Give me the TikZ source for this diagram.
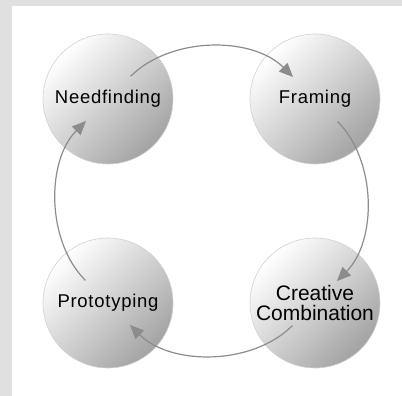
\documentclass[tikz,border=0pt]{standalone}
\usepackage{fontspec}
\setmainfont{Liberation Sans}
\usepackage{tikz}
\usetikzlibrary{arrows.meta, positioning}

\tikzset{
  phase/.style = {circle, minimum size = 130pt, inner sep = 0pt, draw = black!18, line width = 0.6pt,
    top color = white, middle color = black!11, bottom color = black!36, shading angle = 45,
    font = \fontsize{18.5}{20}\selectfont\addfontfeature{LetterSpace=4}},
  flow/.style = {draw = black!45, line width = 1.2pt, -{Triangle[length = 14pt, width = 12pt]},
    shorten < = 32pt, shorten > = 31pt, looseness = 1.1, bend left = 45}
}

\begin{document}
\begin{tikzpicture} [x = 1pt, y = 1pt, node distance = 207pt, on grid]
			% Frame: grey strips top and left
			\useasboundingbox (0,0) rectangle (402,396);
			\fill [black!12] (0,390) rectangle (402,396);
			\fill [black!12] (0,0) rectangle (12,396);

			% Start node : the other phases are placed from this one
			\node (nf) [phase] at (108,297) {Needfinding};
			\node (fr) [phase, right = of nf] {Framing};

			% Lower row
			\node (pt) [phase, below = 204pt of nf] {Prototyping};
			\node (cc) [phase, right = of pt, align = center,
			font = \fontsize{21}{20}\selectfont] {Creative\\Combination};

			% Cycle arrows
			\draw [flow] (nf.center) to (fr.center);
			\draw [flow] (fr.center) to (cc.center);
			\draw [flow] (cc.center) to (pt.center);
			\draw [flow] (pt.center) to (nf.center);
		\end{tikzpicture}
\end{document}
